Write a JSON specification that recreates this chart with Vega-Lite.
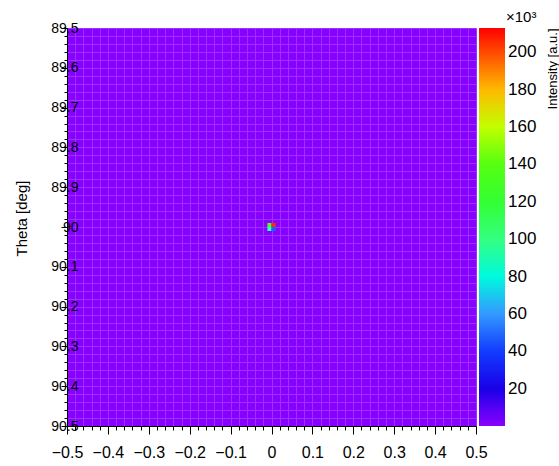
{
  "$schema": "https://vega.github.io/schema/vega-lite/v6.json",
  "width": 409,
  "height": 398,
  "autosize": {"type": "none"},
  "padding": {"left": 67, "top": 28, "right": 83, "bottom": 40},
  "background": "white",
  "title": {"text": "×10³", "anchor": "end", "frame": "group", "align": "left", "dx": 30, "offset": -4, "fontSize": 15, "font": "Liberation Sans", "fontWeight": "normal", "color": "black"},
  "data": {"values": [
    {"x0": -0.01, "x1": 0.0, "y0": 89.99, "y1": 90.0, "v": 135},
    {"x0": 0.0, "x1": 0.01, "y0": 89.99, "y1": 90.0, "v": 205},
    {"x0": -0.01, "x1": 0.0, "y0": 90.0, "y1": 90.01, "v": 85},
    {"x0": 0.0, "x1": 0.01, "y0": 90.0, "y1": 90.01, "v": 50}
  ]},
  "layer": [
    {
      "mark": {"type": "rect"},
      "encoding": {
        "x": {"field": "x0", "type": "quantitative",
          "scale": {"domain": [-0.5, 0.5], "nice": false, "zero": false},
          "axis": {"title": null, "tickCount": 50, "grid": true, "gridColor": "#9a33ff", "gridWidth": 1, "gridOpacity": 1,
            "domainColor": "black", "tickColor": "black",
            "tickSize": {"condition": {"test": "abs(datum.value*10 - round(datum.value*10)) < 1e-6", "value": 8}, "value": 4},
            "labelExpr": "abs(datum.value*10 - round(datum.value*10)) < 1e-6 ? format(datum.value, '~g') : ''",
            "labelFontSize": 16, "labelFont": "Liberation Sans", "labelColor": "black", "labelPadding": 10,
            "labelOverlap": false, "labelFlush": false}},
        "x2": {"field": "x1"},
        "y": {"field": "y0", "type": "quantitative",
          "scale": {"domain": [89.5, 90.5], "reverse": true, "nice": false, "zero": false},
          "axis": {"title": "Theta [deg]", "tickCount": 50, "grid": true, "gridColor": "#9a33ff", "gridWidth": 1, "gridOpacity": 1,
            "domainColor": "black", "tickColor": "black",
            "tickSize": {"condition": {"test": "abs(datum.value*10 - round(datum.value*10)) < 1e-6", "value": 6}, "value": 3},
            "labelExpr": "abs(datum.value*10 - round(datum.value*10)) < 1e-6 ? format(datum.value, '~g') : ''",
            "labelFontSize": 14, "labelFont": "Liberation Sans", "labelColor": "black", "labelPadding": -17,
            "labelOverlap": false, "labelFlush": false,
            "titleFont": "Liberation Sans", "titleFontSize": 15, "titleFontWeight": "normal", "titleColor": "black",
            "titleX": -38, "titleY": 190, "titleAngle": 270, "titleAlign": "center", "titleBaseline": "bottom"}},
        "y2": {"field": "y1"},
        "color": {"field": "v", "type": "quantitative",
          "scale": {
            "domain": [0, 10, 20, 33, 45, 60, 72, 85, 100, 120, 140, 150, 162, 168, 176, 185, 195, 205, 213],
            "range": ["#8a00ff", "#4a00ff", "#1a00e8", "#1010ff", "#2250ff", "#3399ff", "#33eeff", "#33ffc0", "#33ff80", "#33ff33", "#55ff11", "#88ff00", "#ccff00", "#ffff00", "#ffcc00", "#ffa000", "#ff6000", "#ff2a00", "#ff0000"]
          },
          "legend": {"title": null, "orient": "none", "legendX": 412, "legendY": 0, "direction": "vertical",
            "gradientLength": 398, "gradientThickness": 26, "gradientStrokeWidth": 0,
            "values": [20, 40, 60, 80, 100, 120, 140, 160, 180, 200],
            "labelFontSize": 17, "labelFont": "Liberation Sans", "labelColor": "black", "labelOffset": 3,
            "labelOverlap": false}}
      }
    },
    {
      "mark": {"type": "rect", "opacity": 0},
      "encoding": {
        "x": {"field": "x0", "type": "quantitative"},
        "x2": {"field": "x1"},
        "y": {"field": "y0", "type": "quantitative",
          "axis": {"orient": "right", "title": "Intensity [a.u.]", "labels": false, "ticks": false, "domain": false, "grid": false,
            "titleFont": "Liberation Sans", "titleFontSize": 13, "titleFontWeight": "normal", "titleColor": "black",
            "titleX": 76, "titleY": 0, "titleAngle": 270, "titleAlign": "right", "titleBaseline": "middle"}},
        "y2": {"field": "y1"}
      }
    }
  ],
  "resolve": {"axis": {"y": "independent"}},
  "config": {"view": {"fill": "#8800ff", "stroke": null}}
}
